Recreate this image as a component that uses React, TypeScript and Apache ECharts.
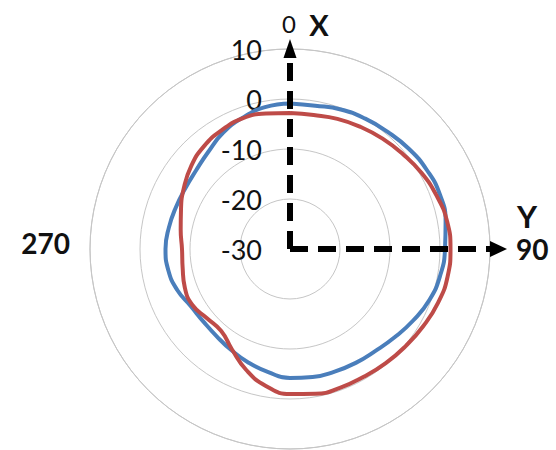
import React, { useEffect, useRef } from 'react';
import * as echarts from 'echarts';

// angle in degrees (0 = X, 90 = Y), clockwise
const angles = [0, 10, 20, 30, 40, 50, 60, 70, 80, 90, 100, 110, 120, 130, 140, 150, 160, 170, 180,
  190, 200, 210, 220, 230, 240, 250, 260, 270, 280, 290, 300, 310, 320, 330, 340, 350, 360];

const blueValues = [-0.9, -0.9, -0.3, 0.1, 0.5, 1.1, 1.6, 1.9, 1.6, 1.0, 0.5, -0.3, -1.5, -2.6, -3.4, -3.7, -3.9, -4.0, -4.2,
  -5.0, -5.8, -6.6, -7.2, -7.4, -7.1, -6.0, -5.3, -5.1, -5.4, -5.7, -5.8, -5.5, -4.6, -3.2, -2.1, -1.2, -0.9];

const redValues = [-2.8, -2.8, -2.3, -1.8, -1.2, -0.5, 0.4, 1.2, 1.9, 2.1, 2.0, 1.5, 0.8, 0.2, -0.2, -0.5, -0.5, -0.6, -1.0,
  -2.2, -4.3, -6.8, -8.6, -8.4, -7.5, -7.6, -8.2, -8.4, -7.8, -6.8, -5.5, -4.2, -3.2, -2.6, -2.2, -2.5, -2.8];

const radiusMin = -30;
const radiusMax = 10;
const radiusStep = 10;
const angleTickLabels: Record<string, string> = { '90': '{right|90}', '270': '{left|270}' };
const topAngleLabel = '0';
const axisNames = ['X', 'Y'];

export default function App() {
  const ref = useRef<HTMLDivElement>(null);
  useEffect(() => {
    const chart = echarts.init(ref.current!, null, { renderer: 'svg' });
    const cx = 290;
    const cy = 249;
    const R = 200;
    const toPairs = (vals: number[]) => vals.map((v, i) => [v, angles[i]]);
    chart.setOption({
      animation: false,
      backgroundColor: '#ffffff',
      polar: { center: [cx, cy], radius: R },
      angleAxis: {
        type: 'value',
        min: 0,
        max: 360,
        interval: 90,
        startAngle: 90,
        clockwise: true,
        axisLine: { show: true, lineStyle: { color: '#c6c6c6', width: 1 } },
        axisTick: { show: false },
        splitLine: { show: false },
        axisLabel: {
          margin: 20,
          color: '#111',
          fontFamily: 'Lato',
          fontSize: 28,
          fontWeight: 'bold',
          formatter: (v: number) => angleTickLabels[String(v)] || '',
          rich: {
            right: { fontSize: 28, fontWeight: 'bold', fontFamily: 'Lato', color: '#111', padding: [0, 0, 0, 6] },
            left: { fontSize: 28, fontWeight: 'bold', fontFamily: 'Lato', color: '#111', padding: [0, 0, 12, 0] },
          },
        },
      },
      radiusAxis: {
        type: 'value',
        min: radiusMin,
        max: radiusMax,
        interval: radiusStep,
        axisLine: { show: false },
        axisTick: { show: false },
        axisLabel: { margin: 28, fontFamily: 'Lato', fontSize: 27, color: '#111' },
        splitLine: { show: true, lineStyle: { color: '#c6c6c6', width: 1 } },
      },
      series: [
        {
          type: 'line',
          coordinateSystem: 'polar',
          data: toPairs(blueValues),
          smooth: true,
          showSymbol: false,
          lineStyle: { color: '#4A7EBB', width: 4 },
        },
        {
          type: 'line',
          coordinateSystem: 'polar',
          data: toPairs(redValues),
          smooth: true,
          showSymbol: false,
          lineStyle: { color: '#BE4B48', width: 4 },
        },
      ],
      graphic: [
        {
          type: 'line', z: 100,
          shape: { x1: cx, y1: cy, x2: cx, y2: cy - R + 10 },
          style: { stroke: '#000', lineWidth: 6, lineDash: [18, 10] },
        },
        {
          type: 'polygon', z: 100,
          shape: { points: [[cx - 6.5, cy - R + 9], [cx, cy - R - 10], [cx + 6.5, cy - R + 9]] },
          style: { fill: '#000' },
        },
        {
          type: 'line', z: 100,
          shape: { x1: cx, y1: cy, x2: cx + R, y2: cy },
          style: { stroke: '#000', lineWidth: 6, lineDash: [18, 10] },
        },
        {
          type: 'polygon', z: 100,
          shape: { points: [[cx + R, cy - 8], [cx + R + 17, cy], [cx + R, cy + 8]] },
          style: { fill: '#000' },
        },
        {
          type: 'text', z: 100, x: cx - 1, y: cy - R - 26,
          style: { text: topAngleLabel, fontFamily: 'Lato', fontSize: 24, fill: '#111', align: 'center', verticalAlign: 'middle' },
        },
        {
          type: 'text', z: 100, x: cx + 29, y: 24,
          style: { text: axisNames[0], fontFamily: 'Lato', fontSize: 29, fontWeight: 'bold', fill: '#111', align: 'center', verticalAlign: 'middle' },
        },
        {
          type: 'text', z: 100, x: cx + R + 37, y: 216,
          style: { text: axisNames[1], fontFamily: 'Lato', fontSize: 31, fontWeight: 'bold', fill: '#111', align: 'center', verticalAlign: 'middle' },
        },
      ],
    });
    return () => chart.dispose();
  }, []);
  return <div ref={ref} style={{ position: 'fixed', left: 0, top: 0, width: 556, height: 450 }} />;
}
